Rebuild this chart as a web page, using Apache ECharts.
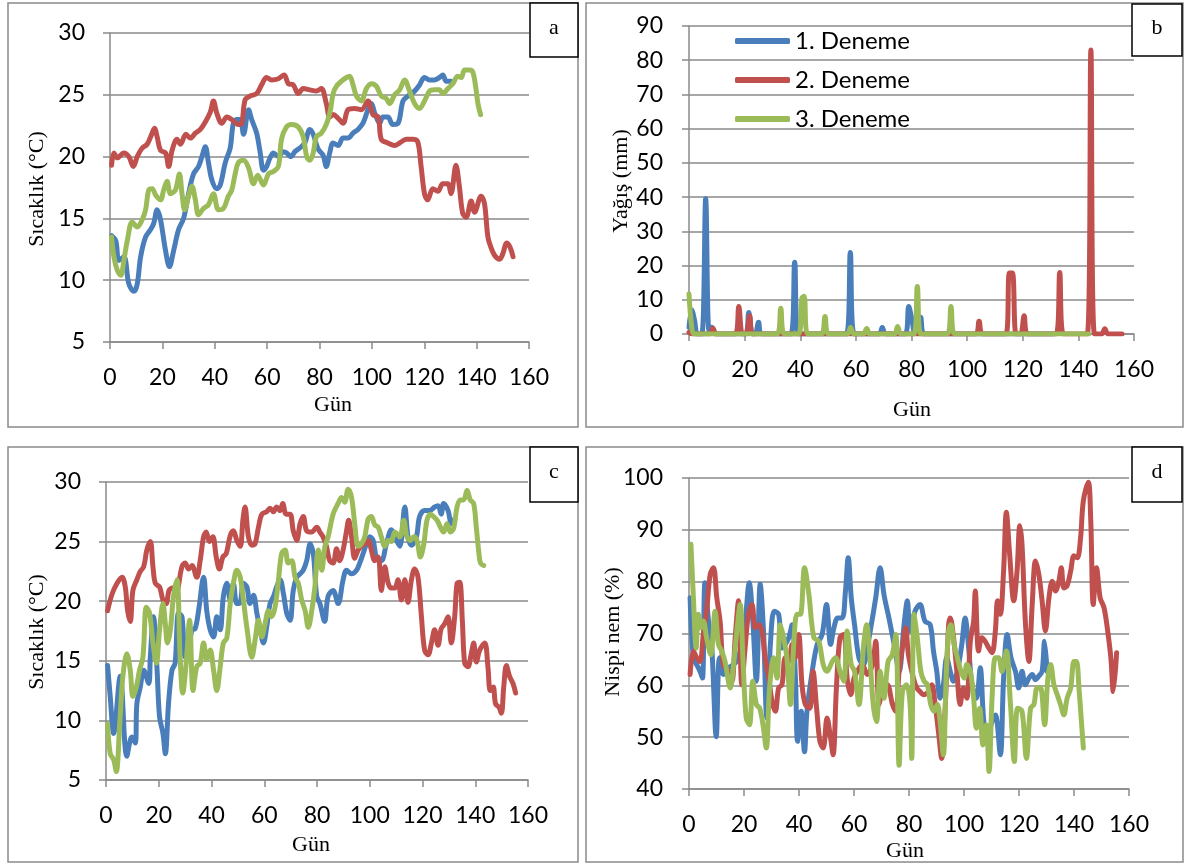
<!DOCTYPE html>
<html><head><meta charset="utf-8">
<script src="https://cdn.jsdelivr.net/npm/echarts@6/dist/echarts.min.js"></script>
<style>html,body{margin:0;padding:0;background:#fff}#c{width:1191px;height:865px}</style>
</head><body><div id="c"></div>
<script>
// ---------- DATA ----------
const seriesNames = ['1. Deneme', '2. Deneme', '3. Deneme'];
const colors = ['#4A7EBB', '#C0504D', '#9BBB59'];
const xTicks = [0, 20, 40, 60, 80, 100, 120, 140, 160];

// Panel a: temperature (°C), [day, value]
const a1 = [[0.6,13.6],[2.2,13.2],[3.4,11.6],[5.3,11.9],[7.2,9.7],[9.1,9.1],[10.4,9.7],[11.7,11.9],[13.6,13.5],[15.5,14.1],[16.7,14.6],[18,15.7],[19.3,14.9],[21.2,12.4],[22.7,11.1],[24.3,12.4],[26.2,14.1],[28.1,15],[30,17],[31.9,18.6],[33.8,19.2],[35.1,20],[36.4,20.8],[37.6,19.5],[38.9,18.1],[40.8,17.4],[42.1,17.7],[44,19.5],[45.9,20.7],[47.1,22.7],[48.4,23],[49.7,23],[51,21.8],[52.9,23.8],[54.1,23],[56,21.9],[57.3,20.4],[58.6,18.9],[59.8,19.2],[61.1,19.9],[62.4,20.3],[64.3,20],[66.2,20.4],[67.4,20.3],[69.1,20],[70.6,20.4],[72.5,20.7],[74.4,21.1],[76.3,22.2],[77.6,21.8],[79.5,20.6],[81.4,20.1],[82.6,19.2],[83.9,20.3],[85.2,21.1],[87.1,20.9],[89,21.5],[90.9,21.5],[92.8,21.9],[94.7,22.2],[96.6,22.7],[98.5,23.8],[99.8,24.3],[101.1,23.5],[103,22.7],[104.2,23.2],[106.1,23.2],[108,22.6],[110,22.7],[111.9,24.5],[113.8,24.9],[116.3,25.3],[118.2,25.8],[120.1,26.4],[122,26.2],[123.9,26.2],[125.8,26.4],[127.1,26.6],[128.4,26.1],[130.2,26.1]];
const a2 = [[0.6,19.3],[1.5,20.3],[2.8,19.9],[5.3,20.3],[7.2,20],[8.9,19.2],[10.4,20],[12.3,20.7],[14.2,21],[16.1,21.9],[17,22.3],[18,21.6],[19.3,20.5],[21.2,20.3],[22.4,19.2],[23.7,20.5],[25.6,21.4],[26.9,21],[29,21.8],[30.7,21.5],[32.6,21.9],[34.5,22.2],[36.4,22.8],[38.3,23.6],[39.5,24.5],[40.8,23.5],[42.7,22.7],[44.6,23.2],[46.5,23],[49,22.6],[50.3,22.7],[51.6,24.6],[53.5,24.9],[56,25.1],[57.9,25.8],[59.8,26.4],[61.7,26.2],[64.3,26.3],[66.5,26.6],[68.1,25.9],[70,25.8],[71.9,25.1],[73.8,25.5],[76.3,25.4],[78.8,25.3],[80.7,25.5],[82.6,24.3],[83.9,23.2],[85.2,23.4],[87.1,23.1],[89,22.7],[90.9,23.8],[93.4,23.9],[96,23.8],[98.5,24.5],[100.4,23.4],[102.4,23.2],[103.6,21.4],[106.1,21.1],[108.7,20.9],[110.6,21.1],[113.1,21.4],[115.6,21.4],[117.5,21.2],[118.8,19.2],[120.1,17],[121.3,16.5],[123.3,17.4],[125.2,17.2],[127.1,17.8],[129,17.8],[130.2,17],[132.1,19.3],[133.4,17.6],[134.7,15.4],[136,15.1],[137.9,16.4],[139.2,15.5],[141.7,16.8],[143,16.2],[144.3,13.5],[145.4,12.7],[146.9,12],[148.8,11.7],[150.1,12.2],[151.4,13],[152.7,12.7],[153.9,11.9]];
const a3 = [[0.6,13.5],[1.5,11.9],[2.8,10.8],[4.1,10.4],[5.3,11.6],[6.6,13.2],[8.5,14.7],[10.4,14.3],[12.3,14.9],[13.6,15.7],[14.8,17.3],[16.1,17.4],[17.4,16.9],[19.3,16.5],[20.5,17.3],[21.8,18],[23.1,17],[25,17.3],[26.5,18.6],[27.5,17],[28.5,15.7],[30,16.8],[31.3,17.6],[32.6,16.5],[33.8,15.3],[35.7,15.8],[37.6,16.1],[39.5,17],[41.4,15.7],[43.3,15.8],[45.2,16.8],[46.5,17.3],[47.8,18.6],[49,19.5],[51,19.7],[52.9,19.1],[54.8,17.8],[56.4,18.5],[58.6,17.7],[60.5,18.6],[62.4,18.8],[64.3,19.2],[65.5,21.4],[67.4,22.4],[69.3,22.6],[71.9,22.4],[73.8,21.6],[75.1,20],[76.3,19.7],[77.6,20.3],[78.8,21.6],[80.7,21.9],[82.6,22.6],[84.2,23.8],[85.2,25.1],[86.5,25.7],[88.4,26.1],[90.3,26.4],[91.5,26.5],[92.8,25.8],[94.1,24.9],[96,24.5],[97.9,25.5],[99.8,25.9],[101.7,25.7],[103.6,24.9],[105.5,24.7],[106.8,24.3],[108.7,25],[110.6,25.4],[112.5,26.2],[114.4,25.3],[116.3,24.3],[118.2,23.9],[120.1,24.5],[122,25.3],[123.9,25.4],[125.8,25.4],[127.1,25.1],[129,25.5],[130.9,25.9],[132.8,26.5],[134.1,26.4],[135.4,27],[137.3,27],[138.6,26.8],[139.8,25.4],[140.5,24.3],[141.5,23.4]];

// Panel b: rainfall (mm), [day, value]
const b1 = [[0,2],[1,7],[2,4],[3,0],[4.6,0],[6,39.5],[7.2,1],[8.2,2],[9.4,0],[20.2,0],[21.5,6.3],[22.8,0],[23.8,0],[25,3.4],[26.2,0],[36.6,0],[38,21],[39.4,0],[56.6,0],[58,23.8],[59.4,0],[68.3,0],[69.5,1.9],[70.7,0],[77.7,0],[79,8],[80.2,4],[81.2,0.5],[82.2,0.5],[83.3,4.9],[84.6,0],[131,0]];
const b2 = [[0,0.5],[1,0],[7.4,0],[8.6,1.7],[9.8,0],[16.6,0],[17.9,8],[19.2,0],[20.5,0],[21.8,5.3],[23.1,0],[103,0],[104.3,3.7],[105.6,0],[113.9,0],[115.2,17.8],[116.3,17.8],[117.6,0],[119.2,0],[120.5,5.3],[121.8,0],[132,0],[133.3,18],[134.6,0],[143.2,0],[144.5,83],[145.8,0],[148.3,0],[149.5,1.5],[150.7,0],[155.7,0]];
const b3 = [[0,11.7],[1,2],[2,0],[31.7,0],[33,7.5],[34.3,0],[39.3,0],[40.6,10.5],[41.4,11],[42.7,0],[47.6,0],[48.9,5.1],[50.2,0],[56.9,0],[58.1,1.9],[59.3,0],[62.7,0],[63.9,1.6],[65.1,0],[73.8,0],[75,2.2],[76.2,0],[80.8,0],[82.1,13.9],[83.4,0],[92.9,0],[94.2,8],[95.5,0],[143.7,0]];

// Panel c: temperature (°C), [day, value]
const c1 = [[0.6,14.6],[1.6,12],[2.9,8.9],[5.4,13.7],[7.9,7],[9.8,8.6],[11.1,8.1],[11.7,11.4],[13,12.8],[14.3,14.2],[16.2,13.1],[16.8,15.3],[18,18.7],[19.3,14.5],[20.3,10.3],[21.6,8.9],[22.5,7.2],[23.7,11.4],[25,14.2],[26.2,14.8],[27.5,19],[28.8,18.7],[30,15.3],[31.3,15.9],[32.6,17.6],[33.8,17.7],[35.1,19.2],[37,22],[38.2,19.2],[39.5,17.6],[40.8,17],[42,18.7],[43.3,17.6],[44.5,20.4],[45.8,21.5],[47.1,20.1],[48.3,21.5],[49.6,19.8],[50.9,19.9],[52.1,21.5],[53.4,21.2],[54.6,19.8],[55.9,20.5],[57.2,19],[58.4,17.6],[59.7,16.5],[60.9,17.8],[62.2,19.8],[63.5,20.4],[64.7,21.2],[66,21.8],[67.3,20.6],[68.5,19],[69.8,18.4],[71,20.9],[72.3,22],[73.6,22.3],[74.8,22.6],[76.1,23.4],[77.4,24.8],[78.6,24],[79.9,20.4],[81.1,19.8],[82.9,18.3],[84.2,20.4],[86.1,20.9],[88,19.8],[89.9,21.8],[91.2,22.6],[93.1,22.3],[95,22.6],[96.2,23.2],[97.5,24],[98.7,24.8],[100,25.4],[101.3,25.1],[102.5,23.7],[104.4,23.4],[106.3,24.8],[108.2,26],[110.1,25.1],[111.4,24.6],[113.3,27.9],[114.5,25.4],[115.8,24.7],[117.7,25.4],[118.9,27.1],[120.8,27.6],[122.7,27.6],[124.6,27.9],[125.9,28],[127.1,27.3],[128,28.2],[129.7,27.6],[130.9,26.5],[131.6,26.8]];
const c2 = [[0.6,19.2],[2.3,20.6],[4.2,21.5],[6.1,22],[7.3,21.2],[8.2,19.2],[9.2,18.3],[10.2,20.9],[11.7,21.8],[13,22.5],[14.3,22.9],[15.5,24.3],[16.8,25],[17.8,22.9],[18.7,21.5],[20.3,21.2],[21.6,20.1],[22.8,19.8],[23.9,20.9],[25.2,21.1],[26.5,20.7],[28.8,22.9],[30,23.2],[31.3,22.7],[32.6,23],[34.4,22],[35.7,23.4],[37,25.4],[38,25.8],[39.2,25],[40.5,25.4],[41.8,23.7],[43,22.7],[44.3,23.7],[45.6,24],[47.1,25.5],[48.3,25.9],[49.6,25.1],[50.9,24.6],[51.9,26.8],[52.7,27.9],[54,25.4],[55.3,24.7],[56.5,24.8],[57.8,26.2],[59.1,27.3],[60.9,27.5],[62.2,27.8],[63.5,27.5],[64.7,27.9],[66,27.6],[67,28.2],[68.3,27.3],[69.8,27.3],[71,25.9],[72.3,25.1],[73.6,26.5],[74.8,27.1],[76.1,25.9],[78,25.8],[79.9,26.2],[81.1,25.8],[82.3,25.4],[83.6,24.6],[84.8,23.4],[86.1,23.2],[87.4,24.4],[88.6,23.4],[89.9,24.3],[91.2,25.9],[92,26.8],[93.1,25.4],[94.3,23.6],[95.6,24.3],[96.8,24.6],[98.1,24.8],[99.4,25.1],[100.6,24.3],[101.9,23.4],[103.2,23.7],[104.4,20.9],[105.7,22.9],[107,21.5],[108.2,21.1],[109.5,21.1],[110.7,21.8],[112,20.1],[113.3,21.8],[114.5,19.9],[115.8,21.8],[117,22.7],[118.3,22],[119.6,18.7],[120.8,15.9],[122.1,15.5],[123.4,16.5],[124.6,17.6],[125.9,16.3],[127.1,17.7],[128.4,18.1],[129.7,18.7],[130.9,16.5],[132.2,18.7],[133.1,21.5],[134.1,21.6],[135.1,18.4],[136,14.8],[137.2,14.5],[138.5,15.6],[139.4,16.5],[140.4,14.9],[141.7,15.9],[143.6,16.5],[144.8,14.5],[145.7,12.5],[146.8,12.8],[147.7,11.4],[149,11.1],[149.9,10.6],[150.8,12.8],[151.8,14.6],[153,13.7],[154.3,13.1],[155.3,12.3]];
const c3 = [[0.6,9.7],[1.6,7.2],[2.9,6.7],[3.9,5.7],[5.2,9.7],[6.4,13.7],[7.9,15.6],[9.2,14.2],[10.2,12],[11.5,12.8],[12.7,14.2],[14,15.3],[15.3,19.5],[16.5,19],[17.8,16.5],[19.1,14.8],[20.3,17.6],[21.6,19.8],[22.5,18.1],[23.3,16.5],[24.4,17.6],[25.6,20.4],[26.9,21.8],[28.1,15.3],[29.1,12.3],[30.4,14.8],[31.7,18.4],[33,12.5],[34.4,14.5],[35.7,14.8],[37,16.5],[38.2,15.1],[39.5,15.9],[40.8,14.2],[42,12.5],[43.3,14.5],[44.5,16.5],[45.8,16.9],[47.1,19.8],[48.3,21.5],[49.6,22.6],[50.9,22],[52.1,20.1],[53.4,17.8],[55.3,15.3],[56.5,16.7],[57.8,18.4],[59.1,17],[60.3,18.1],[61.6,19.2],[62.8,18.7],[64.1,19.5],[65.4,21.8],[66.6,24],[67.9,24.3],[69.1,23.2],[70.4,23.4],[71.7,22],[72.9,21.5],[74.2,20.1],[75.5,19.2],[76.7,17.8],[78,19.2],[79.2,21.2],[80.5,24.3],[81.8,22.6],[83,24.6],[84.2,25.4],[86.1,27.3],[88,28.2],[89.3,28.7],[90.5,28.3],[91.8,29.4],[93.1,28.7],[94.3,26.5],[95.6,24.6],[96.8,24.8],[98.1,25.4],[99.4,26.9],[100.6,27.1],[101.9,26.4],[103.2,26.2],[104.4,25.4],[105.7,24.6],[107,25.1],[108.2,25],[109.5,25.8],[111.4,25.4],[112.9,26.8],[114.1,25.4],[115.4,25.1],[116.7,25.4],[117.9,25.1],[119.2,23.7],[120.5,24.8],[121.7,26.8],[123,27.3],[124.2,27.1],[125.5,26.8],[126.8,26.2],[128,25.8],[129.3,26.5],[130.6,25.8],[131.8,26.1],[133.1,27.9],[134.3,28.5],[135.6,28.5],[136.9,29.3],[138.1,28.5],[139.4,28.2],[140.4,26.2],[141.4,24],[142,23.2],[143.2,23]];

// Panel d: relative humidity (%), [day, value]
const d1 = [[0.4,76.9],[1.6,65.3],[2.8,64],[4,62.7],[4.9,61.4],[5.8,79.8],[7.1,72.4],[8.3,67.2],[9.9,50.1],[11.1,65.3],[12.5,62.1],[14.4,63.4],[16.2,64],[18,65.3],[20.4,72.4],[21.9,79.8],[23.2,72.4],[24.5,60.8],[25.9,79.5],[27.1,70.5],[28.3,53.7],[29.6,67.9],[31,74.3],[32.6,73.7],[33.8,67.2],[35,67.9],[36.3,69.2],[37.5,71.7],[38.7,61.4],[39.5,49.2],[40.8,55],[42,47.2],[42.9,55],[44.8,62.7],[46.6,67.9],[48.4,69.8],[50,75.6],[51.5,67.9],[52.7,71.1],[54.1,73],[55.7,73],[56.9,78.2],[57.9,84.6],[59,76.9],[60.2,71.7],[61.8,65.3],[63.4,64],[64.8,67.2],[66.3,71.7],[67.9,76.9],[69.5,82.7],[70.9,77.5],[72.7,73],[74.6,67.9],[76.4,62.7],[78.2,71.7],[79.4,76.3],[80.4,70.5],[82.2,74.3],[84,75.6],[85.8,72.4],[87.7,71.7],[88.9,66.6],[90.1,62.7],[91.3,57.5],[92.5,60.1],[93.7,65.3],[95,62.7],[96.2,60.8],[97.6,62.7],[99.2,67.9],[100.4,73],[101.7,67.2],[102.9,60.1],[104.5,57.5],[105.9,63.4],[107.1,53.7],[108.3,49.8],[110.2,53],[111.4,54.3],[113.2,46.6],[114.4,61.4],[115.7,69.8],[117.1,65.3],[118.7,62.7],[119.9,59.5],[121.1,62.7],[122.3,60.1],[123.6,61.4],[124.8,62.1],[126,61.1],[127.2,61.8],[128.4,62.7],[129.3,68.5],[130.2,62.7]];
const d2 = [[0.4,62.1],[1.6,66.6],[2.8,65.3],[4,64.6],[5.2,69.8],[6.4,74.3],[7.7,81.4],[8.9,82.7],[10.1,76.9],[11.3,72.4],[12.5,64],[14.4,62.7],[15.6,60.8],[16.8,69.2],[18,76.3],[19.2,60.1],[20.4,67.2],[21.6,73.7],[22.9,75.6],[24.1,71.1],[25.3,71.7],[26.5,70.5],[27.7,65.3],[29,61.4],[30.2,56.9],[31.4,55],[32.6,59.5],[33.8,60.1],[35,65.3],[36.3,64.6],[37.5,67.9],[38.7,65.3],[39.9,69.8],[41.1,60.1],[42.3,56.3],[43.9,55.6],[45.1,62.7],[46.4,55.6],[47.6,49.2],[48.8,47.9],[50.2,53.7],[51.5,49.8],[52.4,46.6],[53.6,59.5],[54.9,69.2],[56.3,69.8],[57.5,61.4],[58.8,58.2],[60,61.4],[61.2,62.7],[63,64],[64.8,62.1],[66.7,64],[67.9,68.5],[69.1,56.3],[70.3,58.8],[72.1,60.1],[74,56.3],[75.2,55],[76.4,62.7],[77.8,68],[78.8,71.1],[79.8,65.9],[81.6,61.4],[82.8,59.5],[84,58.8],[85.2,58.2],[87.1,58.8],[88.3,60.1],[89.5,56.3],[90.7,51.1],[91.9,45.9],[93.1,55],[94.4,71.7],[95,73],[96.2,69.2],[97.4,62.7],[98.6,56.3],[99.8,59.5],[101,57.5],[102.3,68.5],[103.5,72.4],[104.1,78.2],[105.3,66.6],[106.5,69.2],[107.7,68.5],[109,67.2],[110.2,66.3],[111.4,70.5],[112.2,76.3],[113.2,73.7],[114.4,82.1],[115.4,93.4],[116.6,85.3],[118.1,76.3],[119.3,82.1],[120.3,90.8],[121.1,87.2],[122.3,72.4],[123.6,64.6],[124.8,75.6],[126,84],[127.2,81.4],[128.4,76.3],[129.6,70.5],[130.9,76.9],[132.1,80.1],[133.3,78.2],[134.5,80.1],[135.4,82.7],[136.3,78.8],[137.5,79.2],[138.8,82.1],[140,85],[141.2,84.6],[142.4,88.5],[143.4,95.6],[145.2,99.2],[146.1,91.7],[147,75.6],[148.2,82.7],[149.5,76.9],[150.9,75],[152.1,71.1],[153.4,65.3],[154.3,58.8],[155.5,66.3]];
const d3 = [[0.7,87.2],[1.6,76.9],[2.6,67.2],[3.4,73.7],[4.3,71.1],[5.2,72.4],[6.4,69.2],[7.9,65.9],[9.5,74.3],[10.7,67.9],[11.9,66.6],[13.1,64.6],[15,59.5],[16.2,64],[17.4,70.5],[18.6,75.6],[19.6,65.3],[20.8,53.7],[22,52.4],[23.2,60.8],[24.5,56.3],[25.7,55.6],[26.9,52.4],[28.1,47.9],[29.3,59.5],[30.8,65.3],[32,61.4],[33.2,71.7],[34.4,69.2],[35.6,65.3],[36.9,56.3],[38.1,67.9],[39.3,73.7],[40.5,73.7],[42,82.7],[43.6,77.5],[45.4,69.2],[47.2,68.5],[48.8,64],[50.2,62.7],[52.1,64.6],[53.3,65.3],[54.9,62.7],[56.3,60.8],[57.5,70.5],[59,64],[60.2,62.7],[61.8,56.3],[63.4,67.2],[64.6,71.7],[65.8,65.3],[67,56.3],[68.2,53],[69.5,62.7],[70.9,57.5],[72.4,64.6],[73.9,65.9],[75.2,69.8],[76.4,44.6],[77.6,58.8],[79.1,60.1],[80.4,56.3],[81,45.9],[81.8,73.7],[83,69.2],[84.3,62.7],[85.5,60.8],[86.7,60.1],[87.9,56.3],[89.1,55],[90.3,56.3],[91.3,53],[92.5,46.6],[93.5,61.4],[94.4,70.5],[95.2,71.7],[96.4,67.9],[97.6,65.3],[98.9,62.7],[100.1,61.4],[101,64],[102.3,62.7],[103.5,57.5],[104.5,51.7],[105.7,55.6],[106.9,48.5],[108.1,52.4],[109.1,43.4],[110.2,57.5],[111.4,65.3],[112.6,65.3],[113.8,62.7],[115.4,66.6],[116.9,56.3],[118.3,45.3],[119.5,55.6],[121.1,55],[122.7,45.9],[124.2,55.6],[125.4,56.3],[126.6,59.5],[127.8,59.5],[129.3,52.4],[130.5,61.4],[131.5,64],[132.7,60.1],[133.9,58.2],[135.1,56.3],[136.3,54.3],[137.5,57.5],[138.8,59.5],[140,64.6],[140.9,64.6],[141.8,59.5],[142.7,53],[143.4,47.9]];

// ---------- CHART ----------
const GRAY = '#8a8a8a';
const TICKFONT = 'Lato, "Open Sans", sans-serif';
const SERIF = '"Liberation Serif", "DejaVu Serif", serif';

const grids = [
  {left: 110, top: 33, width: 419, height: 309},
  {left: 689, top: 26, width: 445, height: 308},
  {left: 106, top: 482, width: 422, height: 298},
  {left: 689, top: 478, width: 440, height: 311}
];
const yCfg = [
  {min: 5, max: 30, interval: 5, margin: 25},
  {min: 0, max: 90, interval: 10, margin: 26},
  {min: 5, max: 30, interval: 5, margin: 25},
  {min: 40, max: 100, interval: 10, margin: 26}
];

const xAxis = grids.map((g, i) => ({
  type: 'value', gridIndex: i, min: xTicks[0], max: xTicks[xTicks.length - 1], interval: 20,
  axisLine: {show: true, onZero: false, lineStyle: {color: GRAY, width: 1.5}},
  axisTick: {show: true, length: 7, lineStyle: {color: GRAY, width: 1.5}},
  axisLabel: {margin: 24, fontSize: 23, fontFamily: TICKFONT, color: '#000'},
  splitLine: {show: false}
}));
const yAxis = yCfg.map((c, i) => ({
  type: 'value', gridIndex: i, min: c.min, max: c.max, interval: c.interval,
  axisLine: {show: true, lineStyle: {color: GRAY, width: 1.5}},
  axisTick: {show: true, length: 7, lineStyle: {color: GRAY, width: 1.5}},
  axisLabel: {margin: c.margin, fontSize: 23, fontFamily: TICKFONT, color: '#000'},
  splitLine: {show: true, lineStyle: {color: GRAY, width: 1.5}}
}));

const panels = [[a1, a2, a3], [b1, b2, b3], [c1, c2, c3], [d1, d2, d3]];
const series = [];
panels.forEach((set, gi) => {
  set.forEach((data, si) => {
    series.push({
      type: 'line', name: seriesNames[si], xAxisIndex: gi, yAxisIndex: gi,
      data: data, smooth: 0.35, showSymbol: false, symbol: 'none',
      lineStyle: {color: colors[si], width: 5, cap: 'round', join: 'round'},
      itemStyle: {color: colors[si]},
      z: 3 + si, animation: false
    });
  });
});

function border(x1, y1, x2, y2) {
  return {type: 'rect', shape: {x: x1, y: y1, width: x2 - x1, height: y2 - y1},
    style: {fill: null, stroke: GRAY, lineWidth: 1.5}, z: 1, silent: true};
}
function labelBox(x1, y1, x2, y2, t) {
  return [{type: 'rect', shape: {x: x1, y: y1, width: x2 - x1, height: y2 - y1},
      style: {fill: '#fff', stroke: '#000', lineWidth: 1.5}, z: 20, silent: true},
    {type: 'text', x: (x1 + x2) / 2, y: (y1 + y2) / 2 - 2, z: 21, silent: true,
      style: {text: t, font: '22px ' + SERIF, fill: '#000', align: 'center', verticalAlign: 'middle'}}];
}
function title(x, y, t, rot) {
  return {type: 'text', x: x, y: y, rotation: rot ? Math.PI / 2 : 0, z: 10, silent: true,
    style: {text: t, font: '22px ' + SERIF, fill: '#000', align: 'center', verticalAlign: 'middle'}};
}

const graphic = [
  border(8, 3, 578, 427), border(586, 3, 1183, 427),
  border(8, 447, 578, 862), border(586, 447, 1183, 862),
  ...labelBox(530, 3, 578, 57, 'a'), ...labelBox(1132, 4, 1182, 56, 'b'),
  ...labelBox(530, 447, 578, 502, 'c'), ...labelBox(1132, 447, 1182, 502, 'd'),
  title(37, 189, 'Sıcaklık (°C)', true), title(621, 181, 'Yağış (mm)', true),
  title(37, 632, 'Sıcaklık (°C)', true), title(613, 632, 'Nispi nem (%)', true),
  title(333, 405, 'Gün'), title(912, 410, 'Gün'),
  title(311, 845, 'Gün'), title(905, 851, 'Gün')
];

const chart = echarts.init(document.getElementById('c'), null, {renderer: 'canvas'});
chart.setOption({
  animation: false,
  backgroundColor: '#fff',
  grid: grids,
  xAxis: xAxis,
  yAxis: yAxis,
  legend: {
    data: seriesNames, orient: 'vertical', left: 730, top: 24,
    itemWidth: 55, itemHeight: 6, itemGap: 15, icon: 'roundRect',
    textStyle: {fontSize: 24, fontFamily: TICKFONT, color: '#000'},
    selectedMode: false
  },
  series: series,
  graphic: graphic
});
</script></body></html>
